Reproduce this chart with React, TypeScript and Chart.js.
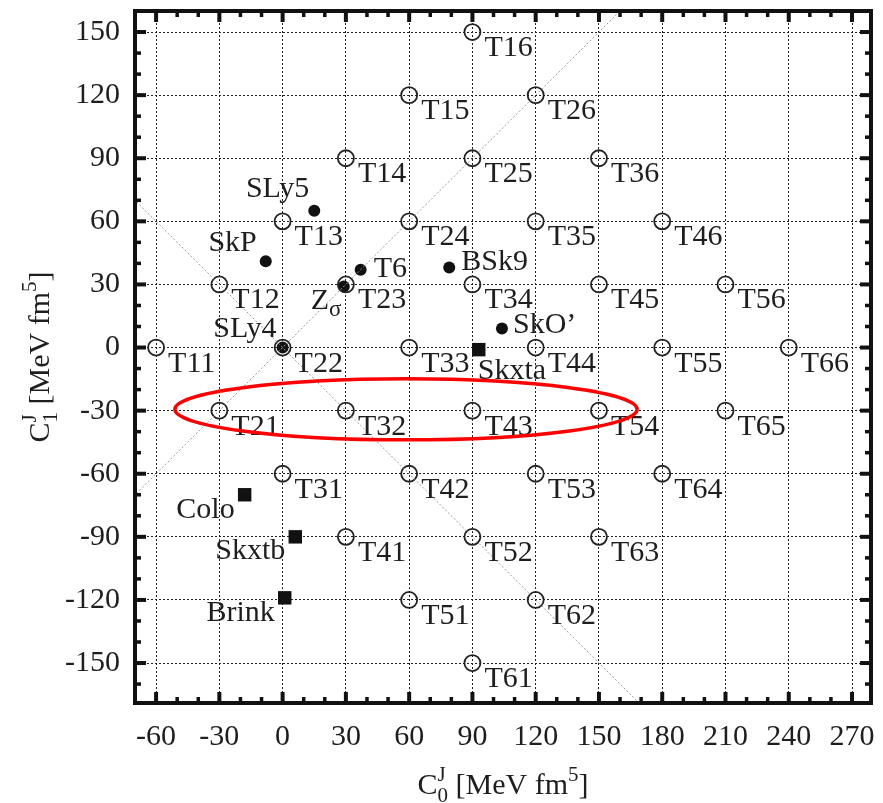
import React, { useEffect, useRef } from 'react';
import { Chart, registerables } from 'chart.js';

Chart.register(...registerables);

// ---------- data ----------
const X_TICKS = [-60, -30, 0, 30, 60, 90, 120, 150, 180, 210, 240, 270];
const Y_TICKS = [-150, -120, -90, -60, -30, 0, 30, 60, 90, 120, 150];
const X_MIN = -70;
const X_MAX = 279;
const Y_MIN = -169;
const Y_MAX = 160;

const T_NAMES = [
  'T11', 'T12', 'T13', 'T14', 'T15', 'T16',
  'T21', 'T22', 'T23', 'T24', 'T25', 'T26',
  'T31', 'T32', 'T33', 'T34', 'T35', 'T36',
  'T41', 'T42', 'T43', 'T44', 'T45', 'T46',
  'T51', 'T52', 'T53', 'T54', 'T55', 'T56',
  'T61', 'T62', 'T63', 'T64', 'T65', 'T66',
];
const T_X = [
  -60, -30, 0, 30, 60, 90,
  -30, 0, 30, 60, 90, 120,
  0, 30, 60, 90, 120, 150,
  30, 60, 90, 120, 150, 180,
  60, 90, 120, 150, 180, 210,
  90, 120, 150, 180, 210, 240,
];
const T_Y = [
  0, 30, 60, 90, 120, 150,
  -30, 0, 30, 60, 90, 120,
  -60, -30, 0, 30, 60, 90,
  -90, -60, -30, 0, 30, 60,
  -120, -90, -60, -30, 0, 30,
  -150, -120, -90, -60, -30, 0,
];

const DOT_NAMES = ['SLy5', 'SkP', 'T6', 'Z', 'BSk9', 'SkO\u2019', 'SLy4'];
const DOT_SUBSCRIPTS = ['', '', '', '\u03c3', '', '', ''];
const DOT_X = [15, -8, 37, 29, 79, 104, 0];
const DOT_Y = [65, 41, 37, 29, 38, 9, 0];

const SQ_NAMES = ['Skxta', 'Colo', 'Skxtb', 'Brink'];
const SQ_X = [93, -18, 6, 1];
const SQ_Y = [-1, -70, -90, -119];

const DIAG_UP_X = [-80, 180];
const DIAG_UP_Y = [-80, 180];
const DIAG_DOWN_X = [-80, 190];
const DIAG_DOWN_Y = [80, -190];

const ELLIPSE_CENTER_X = 58.5;
const ELLIPSE_CENTER_Y = -29.4;
const ELLIPSE_RADIUS_X = 109.6;
const ELLIPSE_RADIUS_Y = 14.5;

// ---------- layout / style ----------
const FONT_FAMILY = "'Liberation Serif', 'Times New Roman', serif";
const TEXT_COLOR = '#1e1e1e';
const MAIN_SIZE = 30;
const SMALL_SIZE = 21;
const T_LABEL_OFFSET = { dx: 12, dy: 24 };
const DOT_LABEL_POS = [
  { dx: -5, dy: -14, align: 'right' },
  { dx: -9, dy: -10, align: 'right' },
  { dx: 13, dy: 7, align: 'left' },
  { dx: -33, dy: 22, align: 'left' },
  { dx: 12, dy: 2, align: 'left' },
  { dx: 11, dy: 4, align: 'left' },
  { dx: -6, dy: -11, align: 'right' },
];
const SQ_LABEL_POS = [
  { dx: -1, dy: 29, align: 'left' },
  { dx: -10, dy: 23, align: 'right' },
  { dx: -10, dy: 22, align: 'right' },
  { dx: -10, dy: 23, align: 'right' },
];

const font = (size: number) => `${size}px ${FONT_FAMILY}`;

type Seg = { text: string; size: number; dy: number; stack?: boolean };

function drawRich(ctx: CanvasRenderingContext2D, segs: Seg[], x: number, y: number, align: string) {
  let cur = 0;
  let stackW = 0;
  const items: { s: Seg; x: number }[] = [];
  for (const s of segs) {
    ctx.font = font(s.size);
    const w = ctx.measureText(s.text).width;
    items.push({ s, x: cur });
    if (s.stack) {
      stackW = Math.max(stackW, w);
    } else {
      cur += Math.max(w, stackW);
      stackW = 0;
    }
  }
  const total = cur;
  const startX = align === 'center' ? x - total / 2 : align === 'right' ? x - total : x;
  ctx.textAlign = 'left';
  ctx.textBaseline = 'alphabetic';
  for (const it of items) {
    ctx.font = font(it.s.size);
    ctx.fillText(it.s.text, startX + it.x, y + it.s.dy);
  }
}

const overlayPlugin = {
  id: 'overlay',
  afterDraw(chart: any) {
    const ctx: CanvasRenderingContext2D = chart.ctx;
    const area = chart.chartArea;
    const xs = chart.scales.x;
    const ys = chart.scales.y;
    ctx.save();

    // labels
    ctx.fillStyle = TEXT_COLOR;
    const tMeta = chart.getDatasetMeta(2);
    tMeta.data.forEach((pt: any, i: number) => {
      drawRich(ctx, [{ text: T_NAMES[i], size: MAIN_SIZE, dy: 0 }], pt.x + T_LABEL_OFFSET.dx, pt.y + T_LABEL_OFFSET.dy, 'left');
    });
    const dMeta = chart.getDatasetMeta(3);
    dMeta.data.forEach((pt: any, i: number) => {
      const p = DOT_LABEL_POS[i];
      const segs: Seg[] = [{ text: DOT_NAMES[i], size: MAIN_SIZE, dy: 0 }];
      if (DOT_SUBSCRIPTS[i]) segs.push({ text: DOT_SUBSCRIPTS[i], size: 23, dy: 7 });
      drawRich(ctx, segs, pt.x + p.dx, pt.y + p.dy, p.align);
    });
    const sMeta = chart.getDatasetMeta(4);
    sMeta.data.forEach((pt: any, i: number) => {
      const p = SQ_LABEL_POS[i];
      drawRich(ctx, [{ text: SQ_NAMES[i], size: MAIN_SIZE, dy: 0 }], pt.x + p.dx, pt.y + p.dy, p.align);
    });

    // ellipse
    const cx = xs.getPixelForValue(ELLIPSE_CENTER_X);
    const cy = ys.getPixelForValue(ELLIPSE_CENTER_Y);
    const rx = xs.getPixelForValue(ELLIPSE_CENTER_X + ELLIPSE_RADIUS_X) - cx;
    const ry = cy - ys.getPixelForValue(ELLIPSE_CENTER_Y + ELLIPSE_RADIUS_Y);
    ctx.beginPath();
    ctx.ellipse(cx, cy, rx, ry, 0, 0, Math.PI * 2);
    ctx.strokeStyle = '#f00';
    ctx.lineWidth = 3.5;
    ctx.stroke();

    // frame
    ctx.strokeStyle = '#111';
    ctx.lineWidth = 4;
    ctx.strokeRect(area.left, area.top, area.right - area.left, area.bottom - area.top);

    // inward ticks
    ctx.fillStyle = '#111';
    for (let v = -60; v <= 270; v += 10) {
      const px = xs.getPixelForValue(v);
      const major = v % 30 === 0;
      const len = major ? 11 : 6;
      const w = major ? 4 : 3.5;
      ctx.fillRect(px - w / 2, area.top, w, len);
      ctx.fillRect(px - w / 2, area.bottom - len, w, len);
    }
    for (let v = -160; v <= 160; v += 10) {
      const py = ys.getPixelForValue(v);
      if (py < area.top + 3 || py > area.bottom - 3) continue;
      const major = v % 30 === 0;
      const len = major ? 11 : 6;
      const w = major ? 4 : 3.5;
      ctx.fillRect(area.left, py - w / 2, len, w);
      ctx.fillRect(area.right - len, py - w / 2, len, w);
    }

    // axis titles
    ctx.fillStyle = TEXT_COLOR;
    const xTitle: Seg[] = [
      { text: 'C', size: MAIN_SIZE, dy: 0 },
      { text: 'J', size: SMALL_SIZE, dy: -13, stack: true },
      { text: '0', size: SMALL_SIZE, dy: 8 },
      { text: ' [MeV fm', size: MAIN_SIZE, dy: 0 },
      { text: '5', size: SMALL_SIZE, dy: -13 },
      { text: ']', size: MAIN_SIZE, dy: 0 },
    ];
    drawRich(ctx, xTitle, (area.left + area.right) / 2, 794, 'center');
    const yTitle: Seg[] = [
      { text: 'C', size: MAIN_SIZE, dy: 0 },
      { text: 'J', size: SMALL_SIZE, dy: -13, stack: true },
      { text: '1', size: SMALL_SIZE, dy: 8 },
      { text: ' [MeV fm', size: MAIN_SIZE, dy: 0 },
      { text: '5', size: SMALL_SIZE, dy: -13 },
      { text: ']', size: MAIN_SIZE, dy: 0 },
    ];
    ctx.translate(49, (area.top + area.bottom) / 2);
    ctx.rotate(-Math.PI / 2);
    drawRich(ctx, yTitle, 0, 0, 'center');
    ctx.restore();
  },
};

export default function App() {
  const ref = useRef<HTMLCanvasElement | null>(null);
  useEffect(() => {
    if (!ref.current) return;
    const tPoints = T_X.map((x, i) => ({ x, y: T_Y[i] }));
    const dots = DOT_X.map((x, i) => ({ x, y: DOT_Y[i] }));
    const squares = SQ_X.map((x, i) => ({ x, y: SQ_Y[i] }));
    const diagUp = DIAG_UP_X.map((x, i) => ({ x, y: DIAG_UP_Y[i] }));
    const diagDown = DIAG_DOWN_X.map((x, i) => ({ x, y: DIAG_DOWN_Y[i] }));
    const tickFont = { family: FONT_FAMILY, size: MAIN_SIZE };
    const chart = new Chart(ref.current, {
      type: 'scatter',
      data: {
        datasets: [
          { data: diagUp, showLine: true, pointRadius: 0, borderColor: '#999', borderWidth: 1, borderDash: [2, 2] },
          { data: diagDown, showLine: true, pointRadius: 0, borderColor: '#999', borderWidth: 1, borderDash: [2, 2] },
          { data: tPoints, pointStyle: 'circle', pointRadius: 8, borderWidth: 1.8, borderColor: '#222', backgroundColor: 'rgba(0,0,0,0)' },
          { data: dots, pointStyle: 'circle', pointRadius: 6, borderWidth: 0, backgroundColor: '#111' },
          { data: squares, pointStyle: 'rect', pointRadius: 9.5, borderWidth: 0, backgroundColor: '#111' },
        ],
      } as any,
      options: {
        animation: false,
        responsive: false,
        maintainAspectRatio: false,
        layout: { padding: { top: 11, right: 12, left: 0, bottom: 0 } },
        plugins: { legend: { display: false }, tooltip: { enabled: false } },
        scales: {
          x: {
            type: 'linear',
            min: X_MIN,
            max: X_MAX,
            afterBuildTicks: (s: any) => { s.ticks = X_TICKS.map((v) => ({ value: v })); },
            afterFit: (s: any) => { s.height = 100; s.paddingLeft = 0; s.paddingRight = 0; },
            grid: { color: '#222', lineWidth: 1, drawTicks: false },
            border: { display: false, dash: [2, 2] },
            ticks: { padding: 16, font: tickFont, color: TEXT_COLOR, maxRotation: 0, autoSkip: false },
          },
          y: {
            type: 'linear',
            min: Y_MIN,
            max: Y_MAX,
            afterBuildTicks: (s: any) => { s.ticks = Y_TICKS.map((v) => ({ value: v })); },
            afterFit: (s: any) => { s.width = 135; s.paddingTop = 0; s.paddingBottom = 0; },
            grid: { color: '#222', lineWidth: 1, drawTicks: false },
            border: { display: false, dash: [2, 2] },
            ticks: { padding: 15, font: tickFont, color: TEXT_COLOR, autoSkip: false },
          },
        },
      } as any,
      plugins: [overlayPlugin],
    });
    return () => chart.destroy();
  }, []);
  return (
    <div style={{ position: 'fixed', left: 0, top: 0, width: 883, height: 803, background: '#fff' }}>
      <canvas ref={ref} width={883} height={803} style={{ display: 'block' }} />
    </div>
  );
}
